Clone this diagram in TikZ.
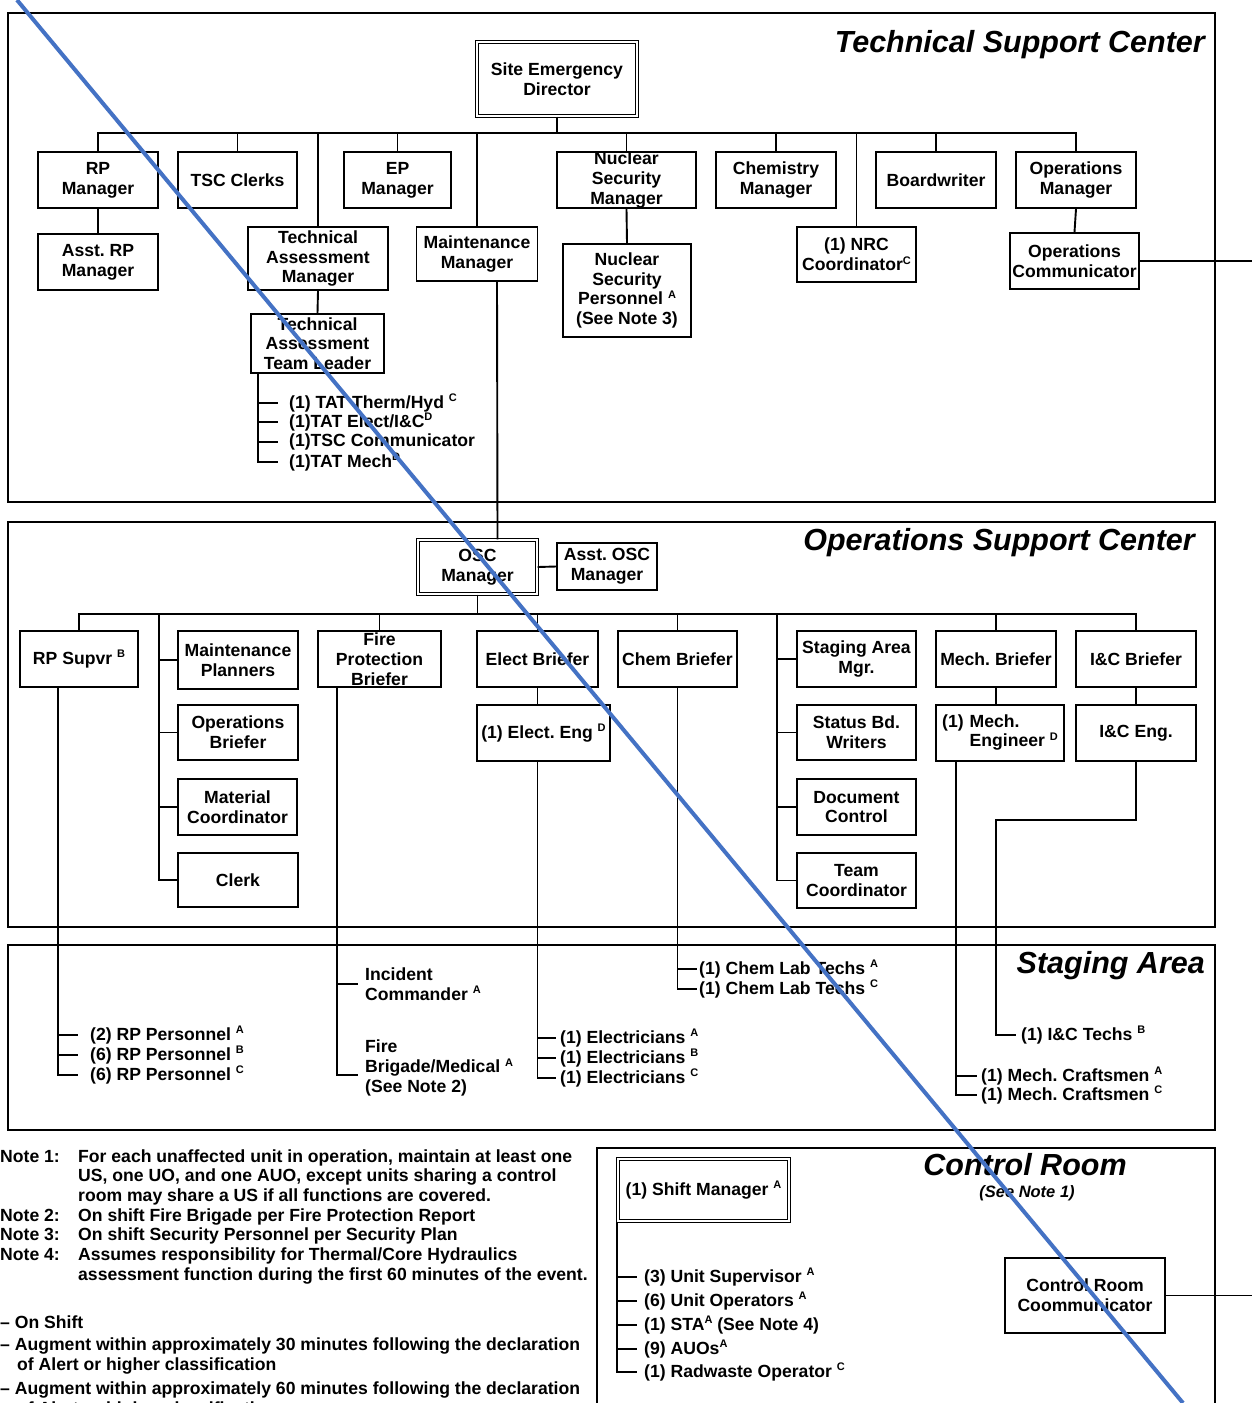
\documentclass[tikz,border=0pt]{standalone}
\usepackage{fontspec}
\setmainfont{Liberation Sans}
\definecolor{slash}{RGB}{68,114,196}
\newcommand\sps[1]{\raisebox{0.36em}{\fontsize{11}{11}\selectfont #1}}
\frenchspacing
\begin{document}
\begin{tikzpicture}[x=1pt,y=-1pt,
  base/.style={font=\fontsize{17.6}{19.7}\selectfont\bfseries\frenchspacing},
  bx/.style 2 args={draw, line width=1.9pt, minimum width=#1pt, minimum height=#2pt, inner sep=0pt, align=center, base},
  dbx/.style 2 args={bx={#1}{#2}, double, double distance=2.4pt, line width=1.2pt},
  ln/.style={line width=1.9pt},
  region/.style={draw, line width=1.4pt},
  ttl/.style={font=\fontsize{30.5}{34}\selectfont\bfseries\itshape, inner sep=0pt},
  li/.style={base, anchor=west, inner xsep=4pt, inner ysep=0pt, align=left},
  txt/.style={base, inner sep=0pt},
]
\useasboundingbox (0,0) rectangle (1252,1403);
\clip (0,0) rectangle (1252,1403);

% ---------- region frames ----------
\draw[region] (8,13) rectangle (1215,502);
\draw[region] (8,522) rectangle (1215,927);
\draw[region] (8,945) rectangle (1215,1130);
\draw[region] (597,1148) rectangle (1215,1430);

\node[ttl, anchor=base east] (tscT) at (1205,52) {Technical Support Center};
\node[ttl, anchor=base east] (oscT) at (1195,550) {Operations Support Center};
\node[ttl, anchor=base east] (saT) at (1205,973) {Staging Area};
\node[ttl, anchor=base] (crT) at (1025,1175) {Control Room};
\node[font=\fontsize{16.5}{19}\selectfont\bfseries\itshape, inner sep=0pt, anchor=base] (crN) at (1027,1197) {(See Note 1)};

% ---------- Technical Support Center ----------
\node[dbx={160}{74}] (sed) at (557,79) {Site Emergency\\Director};
\node[bx={120}{56}] (rpm) at (98,180) {RP\\Manager};
\node[bx={119}{56}] (tscc) at (237.5,180) {TSC Clerks};
\node[bx={107}{56}] (epm) at (397.5,180) {EP\\Manager};
\node[bx={139}{56}, label={[txt, align=center]center:Nuclear\\Security\\Manager}] (nsm) at (626.5,180) {};
\node[bx={120}{56}] (chm) at (776,180) {Chemistry\\Manager};
\node[bx={120}{56}] (bw) at (936,180) {Boardwriter};
\node[bx={120}{56}] (opm) at (1076,180) {Operations\\Manager};
\node[bx={120}{56}] (arpm) at (98,262) {Asst. RP\\Manager};
\node[bx={140}{63}] (tam) at (318,258.5) {Technical\\Assessment\\Manager};
\node[bx={121}{54}] (mm) at (477,254) {Maintenance\\Manager};
\node[bx={128}{93}] (nsp) at (627,290.5) {Nuclear\\Security\\Personnel \sps{A}\\(See Note 3)};
\node[bx={119}{55}] (nrc) at (856.5,254.5) {(1) NRC\\Coordinator\sps{C}};
\node[bx={129}{56}] (opc) at (1074.5,261) {Operations\\Communicator};
\node[bx={133}{59}, label={[txt, align=center]center:Technical\\Assessment\\Team Leader}] (tatl) at (317.5,343.5) {};

\node[li, inner xsep=11pt] (t1) at (278,403) {(1) TAT Therm/Hyd \sps{C}};
\node[li, inner xsep=11pt] (t2) at (278,422) {(1)TAT Elect/I\&C\sps{D}};
\node[li, inner xsep=11pt] (t3) at (278,442) {(1)TSC Communicator};
\node[li, inner xsep=11pt] (t4) at (278,462) {(1)TAT Mech\sps{D}};

\coordinate (tbus) at (557,133);
\coordinate (opcEnd) at (1252,261);
\coordinate (tv) at ([xshift=8pt]tatl.south west);
\draw[ln] (sed.south) -- (tbus);
\foreach \n in {rpm,tscc,tam,epm,mm,nsm,chm,nrc,bw,opm} \draw[ln] (\n.north) |- (tbus);
\draw[ln] (rpm.south) -- (arpm.north);
\draw[ln] (nsm.south) -- (nsp.north);
\draw[ln] (opm.south) -- (opc.north);
\draw[ln] (tam.south) -- (tatl.north);
\draw[ln] (opc.east) -- (opcEnd);
\draw[ln] (tv) |- (t4.west);
\foreach \n in {t1,t2,t3} \draw[ln] (tv |- \n.west) -- (\n.west);

% ---------- Operations Support Center ----------
\node[dbx={119}{54}] (oscm) at (477.5,567) {OSC\\Manager};
\node[bx={100}{47}] (aoscm) at (607,566.5) {Asst. OSC\\Manager};
\node[bx={118}{56}] (rps) at (79,659) {RP Supvr \sps{B}};
\node[bx={120}{58}] (mp) at (238,660) {Maintenance\\Planners};
\node[bx={120}{55}] (ob) at (238,732.5) {Operations\\Briefer};
\node[bx={119}{56}] (mc) at (237.5,807) {Material\\Coordinator};
\node[bx={120}{54}] (clk) at (238,880) {Clerk};
\node[bx={123}{56}, label={[txt, align=center]center:Fire\\Protection\\Briefer}] (fpb) at (379.5,659) {};
\node[bx={121}{56}] (eb) at (537.5,659) {Elect Briefer};
\node[bx={133}{56}] (ee) at (543.5,733) {(1) Elect. Eng \sps{D}};
\node[bx={119}{56}] (cb) at (677.5,659) {Chem Briefer};
\node[bx={119}{56}] (sam) at (856.5,659) {Staging Area\\Mgr.};
\node[bx={119}{55}] (sbw) at (856.5,732.5) {Status Bd.\\Writers};
\node[bx={119}{56}] (dc) at (856.5,807) {Document\\Control};
\node[bx={119}{55}] (tc) at (856.5,880.5) {Team\\Coordinator};
\node[bx={120}{56}] (mb) at (996,659) {Mech. Briefer};
\node[bx={128}{56}] (me) at (1000,733) {\begin{tabular}{@{}l@{\hspace{6pt}}l@{}}(1)&Mech.\\&Engineer \sps{D}\end{tabular}};
\node[bx={120}{56}] (icb) at (1136,659) {I\&C Briefer};
\node[bx={120}{56}] (ice) at (1136,733) {I\&C Eng.};

\coordinate (obus) at (477.5,614);
\coordinate (g1) at (159,614);
\coordinate (g2) at (777,614);
\draw[ln] ([xshift=20pt]mm.south) -- ([xshift=20pt]oscm.north);
\draw[ln] (oscm.south) -- (obus);
\draw[ln] (oscm.east) -- (aoscm.west);
\foreach \n in {rps,fpb,eb,cb,mb,icb} \draw[ln] (\n.north) |- (obus);
\draw[ln] (g1) |- (clk.west);
\foreach \n in {mp,ob,mc} \draw[ln] (g1 |- \n.west) -- (\n.west);
\draw[ln] (g2) |- (tc.west);
\foreach \n in {sam,sbw,dc} \draw[ln] (g2 |- \n.west) -- (\n.west);
\draw[ln] (eb.south) -- (eb.south |- ee.north);
\draw[ln] (mb.south) -- (mb.south |- me.north);
\draw[ln] (icb.south) -- (ice.north);

% ---------- Staging Area ----------
\node[li, inner xsep=12pt] (r1) at (78,1035) {(2) RP Personnel \sps{A}};
\node[li, inner xsep=12pt] (r2) at (78,1055) {(6) RP Personnel \sps{B}};
\node[li, inner xsep=12pt] (r3) at (78,1075) {(6) RP Personnel \sps{C}};
\coordinate (rpv) at ([xshift=39pt]rps.south west);
\draw[ln] (rpv) |- (r3.west);
\foreach \n in {r1,r2} \draw[ln] (rpv |- \n.west) -- (\n.west);

\node[li, inner xsep=7pt] (ic) at (358,984) {Incident\\Commander \sps{A}};
\node[li, inner xsep=7pt] (fbm) at (358,1068) {Fire\\Brigade/Medical \sps{A}\\(See Note 2)};
\coordinate (fpv) at ([xshift=20pt]fpb.south west);
\draw[ln] (fpv) |- ([yshift=-7pt]fbm.west);
\draw[ln] (fpv |- ic.west) -- (ic.west);

\node[li, inner xsep=4pt] (e1) at (556,1038) {(1) Electricians \sps{A}};
\node[li, inner xsep=4pt] (e2) at (556,1058) {(1) Electricians \sps{B}};
\node[li, inner xsep=4pt] (e3) at (556,1078) {(1) Electricians \sps{C}};
\coordinate (eev) at (eb.south |- ee.south);
\draw[ln] (eev) |- (e3.west);
\foreach \n in {e1,e2} \draw[ln] (eev |- \n.west) -- (\n.west);

\node[li, inner xsep=2pt] (c1) at (697,969) {(1) Chem Lab Techs \sps{A}};
\node[li, inner xsep=2pt] (c2) at (697,989) {(1) Chem Lab Techs \sps{C}};
\draw[ln] (cb.south) |- (c2.west);
\draw[ln] (cb.south |- c1.west) -- (c1.west);

\node[li, inner xsep=4pt] (m1) at (977,1076) {(1) Mech. Craftsmen \sps{A}};
\node[li, inner xsep=4pt] (m2) at (977,1095) {(1) Mech. Craftsmen \sps{C}};
\coordinate (mev) at ([xshift=21pt]me.south west);
\draw[ln] (mev) |- (m2.west);
\draw[ln] (mev |- m1.west) -- (m1.west);

\node[li, inner xsep=5pt] (ict) at (1016,1035) {(1) I\&C Techs \sps{B}};
\coordinate (icbend) at (996,820);
\draw[ln] (ice.south) |- (icbend) |- (ict.west);

% ---------- Control Room ----------
\node[dbx={171}{62}] (shm) at (703.5,1190) {(1) Shift Manager \sps{A}};
\node[bx={160}{75}] (crc) at (1085,1295.5) {Control Room\\Coommunicator};
\coordinate (crcEnd) at (1252,1295.5);
\draw[ln] (crc.east) -- (crcEnd);
\node[li, inner xsep=7pt] (cr1) at (637,1277) {(3) Unit Supervisor \sps{A}};
\node[li, inner xsep=7pt] (cr2) at (637,1301) {(6) Unit Operators \sps{A}};
\node[li, inner xsep=7pt] (cr3) at (637,1325) {(1) STA\sps{A} (See Note 4)};
\node[li, inner xsep=7pt] (cr4) at (637,1349) {(9) AUOs\sps{A}};
\node[li, inner xsep=7pt] (cr5) at (637,1372) {(1) Radwaste Operator \sps{C}};
\draw[ln] (shm.south west) |- (cr5.west);
\foreach \n in {cr1,cr2,cr3,cr4} \draw[ln] (shm.south west |- \n.west) -- (\n.west);

% ---------- Notes and legend ----------
\node[base, anchor=north west, inner sep=0pt] (notes) at (0,1148) {%
\begin{tabular}{@{}p{78pt}@{}l@{}}
Note 1: & For each unaffected unit in operation, maintain at least one\\
 & US, one UO, and one AUO, except units sharing a control\\
 & room may share a US if all functions are covered.\\
Note 2: & On shift Fire Brigade per Fire Protection Report\\
Note 3: & On shift Security Personnel per Security Plan\\
Note 4: & Assumes responsibility for Thermal/Core Hydraulics\\
 & assessment function during the first 60 minutes of the event.
\end{tabular}};
\node[txt, anchor=west] (lg1) at (0,1322) {– On Shift};
\node[txt, anchor=west] (lg2) at (0,1346) {– Augment within approximately 30 minutes following the declaration};
\node[txt, anchor=west] (lg2b) at (17,1366) {of Alert or higher classification};
\node[txt, anchor=west] (lg3) at (0,1390) {– Augment within approximately 60 minutes following the declaration};
\node[txt, anchor=west] (lg3b) at (17,1410) {of Alert or higher classification};

% ---------- diagonal strike line ----------
\coordinate (s1) at (17,0);
\coordinate (s2) at (1183,1403);
\draw[slash, line width=4pt] (s1) -- (s2);
\end{tikzpicture}
\end{document}
